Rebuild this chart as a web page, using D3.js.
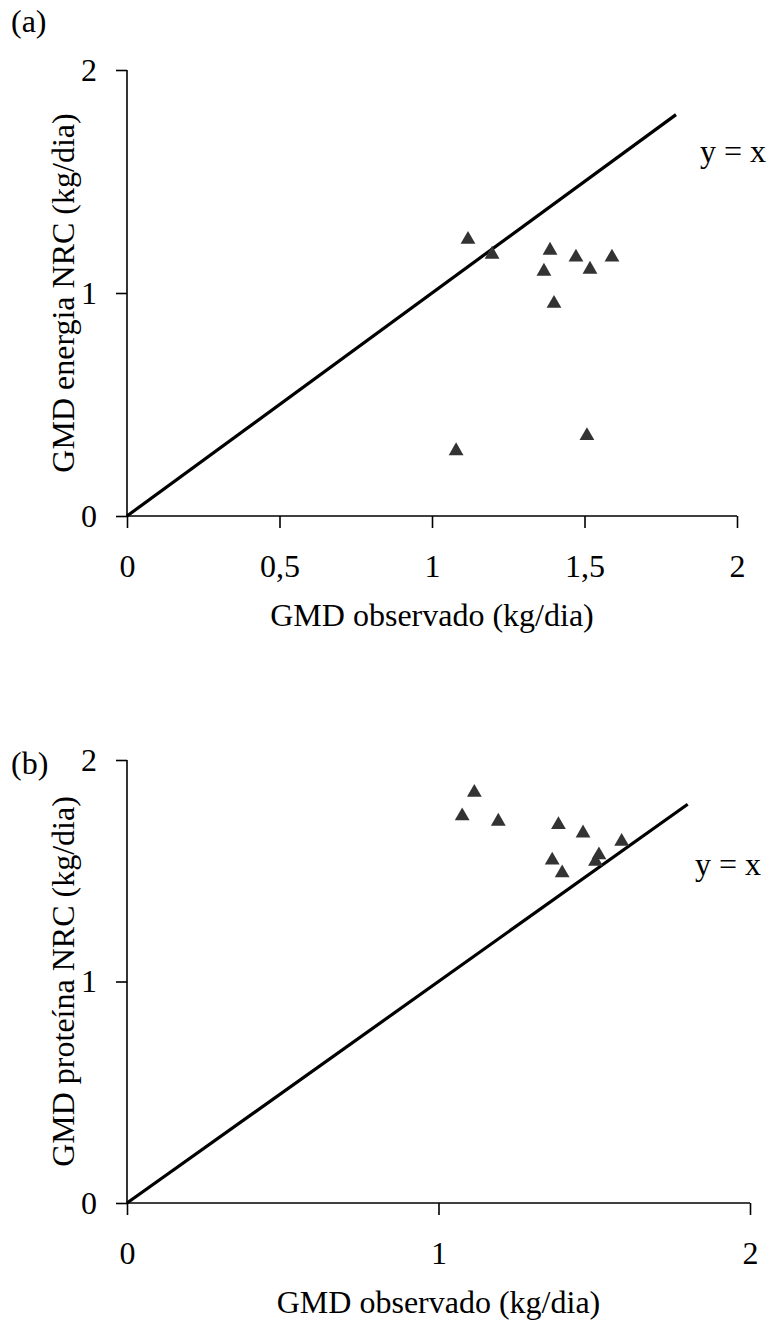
<!DOCTYPE html>
<html lang="pt">
<head>
<meta charset="UTF-8"/>
<title>GMD observado vs NRC</title>
<script src="https://d3js.org/d3.v7.min.js"></script>
<style>
  body { margin: 0; background: #fff; }
  svg text { font-family: "Liberation Serif", "Times New Roman", serif; fill: #000; }
</style>
</head>
<body>
<script>
// panel (a): GMD energia NRC
var obsA = [1.118, 1.197, 1.387, 1.367, 1.472, 1.518, 1.590, 1.400, 1.079, 1.508];
var nrcA = [1.249, 1.182, 1.200, 1.106, 1.169, 1.115, 1.169, 0.962, 0.301, 0.369];
var xTicksA = [0, 0.5, 1, 1.5, 2];

// panel (b): GMD proteína NRC
var obsB = [1.115, 1.076, 1.192, 1.385, 1.464, 1.588, 1.515, 1.504, 1.365, 1.397];
var nrcB = [1.862, 1.756, 1.732, 1.717, 1.679, 1.641, 1.580, 1.551, 1.556, 1.499];
var xTicksB = [0, 1, 2];
var yTicks = [0, 1, 2];
var lineEnd = 1.8;

var w = 769, h = 1332;
var fs = 32;

var svg = d3.select("body").append("svg")
  .attr("width", w)
  .attr("height", h);

var fmt = function(d){ return String(d).replace(".", ","); };

function panel(opt) {
  var x = d3.scaleLinear().domain([0, 2]).range([opt.x0, opt.x1]);
  var y = d3.scaleLinear().domain([0, 2]).range([opt.y0, opt.y1]);
  var g = svg.append("g");

  // y axis
  var ya = g.append("g")
    .attr("transform", "translate(" + opt.x0 + ",0)")
    .call(d3.axisLeft(y).tickValues(yTicks).tickSize(11).tickPadding(19).tickFormat(fmt));
  // x axis
  var xa = g.append("g")
    .attr("transform", "translate(0," + opt.y0 + ")")
    .call(d3.axisBottom(x).tickValues(opt.xTicks).tickSize(12).tickFormat(fmt));

  [ya, xa].forEach(function(a){
    a.select(".domain").attr("stroke", "#000").attr("stroke-width", 1.6);
    a.selectAll(".tick line").attr("stroke", "#000").attr("stroke-width", 1.6);
    a.selectAll(".tick text").attr("font-size", fs)
      .attr("font-family", "Liberation Serif").attr("fill", "#000");
  });
  ya.select(".domain").attr("d", "M0," + opt.y0 + "V" + opt.y1);
  xa.select(".domain").attr("d", "M" + opt.x0 + ",0H" + opt.x1);
  xa.selectAll(".tick text").attr("y", 61).attr("dy", 0);

  // y = x line
  g.append("line")
    .attr("x1", x(0)).attr("y1", y(0))
    .attr("x2", x(lineEnd)).attr("y2", y(lineEnd))
    .attr("stroke", "#000").attr("stroke-width", 3.2);

  g.append("text")
    .attr("x", opt.eqX).attr("y", y(opt.eqY))
    .attr("font-size", fs).attr("dominant-baseline", "middle")
    .text("y = x");

  // points
  g.selectAll("path.pt")
    .data(d3.range(opt.xs.length))
    .enter()
    .append("path")
    .attr("class", "pt")
    .attr("d", d3.symbol(d3.symbolTriangle, 95))
    .attr("fill", "#333")
    .attr("transform", function(i){
      return "translate(" + x(opt.xs[i]) + "," + (y(opt.ys[i]) + 2) + ")";
    });

  // titles
  g.append("text")
    .attr("x", (opt.x0 + opt.x1) / 2).attr("y", opt.y0 + 110)
    .attr("text-anchor", "middle").attr("font-size", fs)
    .text("GMD observado (kg/dia)");
  g.append("text")
    .attr("transform", "translate(" + opt.yTitleX + "," + (opt.y0 + opt.y1) / 2 + ") rotate(-90)")
    .attr("text-anchor", "middle").attr("font-size", fs)
    .text(opt.yTitle);
  g.append("text")
    .attr("x", 11).attr("y", opt.labelY)
    .attr("font-size", fs)
    .text(opt.label);
}

panel({
  x0: 127, x1: 737, y0: 516, y1: 70,
  xs: obsA, ys: nrcA, xTicks: xTicksA,
  eqX: 700, eqY: 1.62,
  yTitleX: 74,
  yTitle: "GMD energia NRC (kg/dia)",
  label: "(a)", labelY: 32
});

panel({
  x0: 127, x1: 750, y0: 1203, y1: 760,
  xs: obsB, ys: nrcB, xTicks: xTicksB,
  eqX: 695, eqY: 1.516,
  yTitleX: 74,
  yTitle: "GMD proteína NRC (kg/dia)",
  label: "(b)", labelY: 774
});
</script>
</body>
</html>
